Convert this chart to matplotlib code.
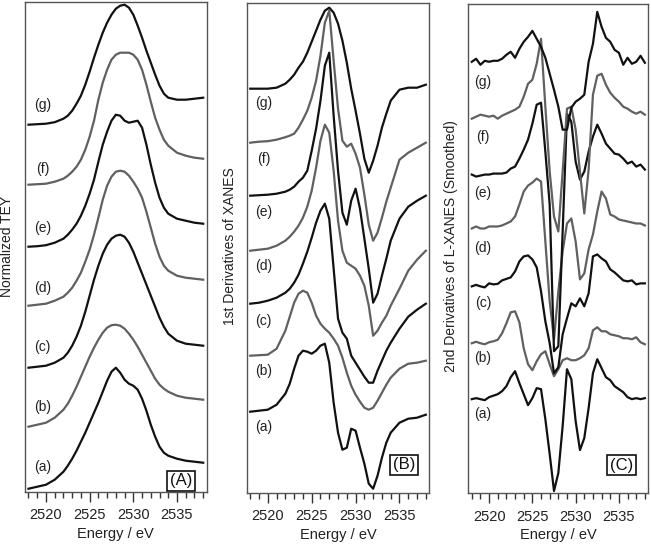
import matplotlib
matplotlib.use("Agg")
import matplotlib.pyplot as plt
from matplotlib.ticker import MultipleLocator

plt.rcParams['font.family'] = ['Liberation Sans', 'DejaVu Sans']

# Energy grids (eV)
energy_ab = [2518, 2519, 2520, 2521, 2522, 2522.5, 2523, 2523.5, 2524, 2524.5,
             2525, 2525.5, 2526, 2526.5, 2527, 2527.5, 2528, 2528.5, 2529, 2529.5,
             2530, 2530.5, 2531, 2531.5, 2532, 2532.5, 2533, 2533.5, 2534, 2535,
             2536, 2537, 2538]
energy_c = [2518, 2518.5, 2519, 2519.5, 2520, 2520.5, 2521, 2521.5, 2522, 2522.5,
            2523, 2523.5, 2524, 2524.5, 2525, 2525.5, 2526, 2526.5, 2527, 2527.5,
            2528, 2528.5, 2529, 2529.5, 2530, 2530.5, 2531, 2531.5, 2532, 2532.5,
            2533, 2533.5, 2534, 2534.5, 2535, 2535.5, 2536, 2536.5, 2537, 2537.5, 2538]

curve_names = ['(a)', '(b)', '(c)', '(d)', '(e)', '(f)', '(g)']

# Panel A: normalized TEY (stacked, arbitrary units)
tey_a = [3, 5, 7, 12, 20, 26, 33, 41, 50, 59, 69, 79, 89, 100, 111, 120, 124, 119, 112, 108,
         106, 102, 93, 81, 67, 55, 45, 39, 36, 33, 31, 30, 29]
tey_b = [65, 67, 69, 74, 82, 88, 96, 105, 115, 125, 135, 144, 152, 159, 164, 166.5, 167, 166,
         163, 158, 152, 145, 137, 129, 121, 113, 107, 103, 100, 96, 94, 93, 92]
tey_c = [124, 125, 126, 129, 134, 139, 146, 155, 166, 180, 196, 212, 226, 238, 247, 253, 256,
         257, 255, 249, 240, 229, 218, 207, 196, 185, 174, 165, 158, 151, 148, 147, 146]
tey_d = [186, 187, 188, 191, 195, 199, 204, 211, 219, 230, 242, 257, 274, 292, 306, 315, 320,
         321, 320, 316, 310, 303, 294, 280, 264, 248, 235, 226, 221, 216, 214, 213, 212]
tey_e = [245, 245.5, 246.5, 249, 253, 257, 262, 268, 276, 286, 298, 312, 330, 347, 360, 371,
         377, 376, 371, 369, 370, 371, 364, 347, 327, 309, 294, 284, 278, 273, 271, 269, 268]
tey_f = [307, 307.5, 308, 310, 313, 316, 320, 325, 332, 342, 355, 371, 392, 409, 422, 432, 437,
         439, 439, 439, 437, 432, 422, 407, 390, 374, 362, 352, 346, 339, 336, 334, 333]
tey_g = [367, 367.5, 368, 369.5, 373, 376, 381, 388, 396, 407, 420, 434, 447, 459, 469, 477,
         483, 486, 487, 484, 477, 466, 454, 441, 429, 417, 406, 398, 394, 392, 392, 393, 394]

# Panel B: 1st derivatives
d1_a = [81, 82, 83, 88, 99, 109, 124, 137, 142, 141, 139, 142, 147, 149, 130, 90, 60, 43, 45,
        64, 62, 45, 29, 9, 4, 17, 35, 50, 60, 70, 74, 75, 78]
d1_b = [137, 137.5, 138, 144, 162, 176, 190, 199, 202, 200, 190, 177, 169, 164, 160, 154, 147,
        135, 120, 107, 98, 91, 85, 83, 85, 92, 100, 108, 115, 124, 129, 130, 132]
d1_c = [189, 190, 192, 195, 200, 204, 210, 218, 229, 241, 255, 270, 282, 289, 274, 224, 174,
        160, 154, 137, 130, 123, 116, 110, 110, 122, 132, 142, 150, 164, 176, 183, 189]
d1_d = [242, 243, 244, 247, 252, 256, 261, 267, 275, 286, 302, 325, 352, 368, 360, 322, 272,
        242, 230, 227, 224, 217, 207, 187, 157, 162, 170, 177, 187, 204, 222, 233, 242]
d1_e = [297, 297.5, 298, 299, 301, 303, 306, 311, 315, 322, 342, 364, 392, 427, 440, 377, 322,
        280, 268, 292, 304, 284, 254, 224, 190, 199, 217, 234, 252, 274, 286, 292, 297]
d1_f = [350, 351, 351.5, 353, 355.5, 357, 359, 365, 373, 382, 395, 412, 437, 470, 482, 432, 384,
        352, 346, 349, 339, 325, 298, 268, 252, 260, 275, 291, 305, 333, 340, 345, 350]
d1_g = [404, 404, 404, 405, 409, 413, 418, 425, 431, 440, 451, 462, 473, 482, 485, 480, 469,
        452, 430, 404, 382, 359, 334, 320, 332, 347, 365, 379, 392, 403, 405, 405, 408]

# Panel C: 2nd derivatives (smoothed)
d2_a = [94, 95, 94, 93, 96, 97.5, 99, 102, 107, 116, 122, 110, 99, 88, 95, 105, 104, 74, 39, 2,
        20, 67, 124, 114, 72, 43, 55, 85, 120, 134, 125, 116, 113, 107, 104, 101, 96, 94, 95, 94, 95]
d2_b = [150, 151.5, 150, 149, 151, 152, 153.5, 160, 170, 181, 182, 171, 145, 129, 123, 132, 139,
        142, 129, 117, 124, 133, 135, 133, 133, 135, 138, 145, 163, 166, 162, 162, 159, 158, 157,
        155, 155, 154, 156, 151, 149]
d2_c = [207, 208.5, 207, 206, 210, 209, 209.5, 213, 214.5, 216, 222, 232, 237, 238, 234, 226, 202,
        172, 150, 120, 126, 159, 175, 190, 187, 195, 187, 200, 237, 239, 235, 232, 224, 221, 217,
        213, 212, 213, 209, 210, 210]
d2_d = [265, 267, 265, 265, 267, 267, 267, 268, 270, 272, 277, 289, 302, 308, 311, 315, 312, 252,
        192, 154, 202, 242, 270, 275, 252, 214, 220, 244, 259, 282, 302, 295, 279, 277, 274, 273,
        272, 271, 270, 270, 268]
d2_e = [319, 317, 318, 319, 319, 320, 320, 320, 321, 325, 327, 335, 344, 354, 370, 389, 391, 342,
        289, 142, 147, 262, 380, 372, 332, 314, 322, 342, 357, 369, 360, 350, 345, 340, 339, 335,
        330, 332, 327, 329, 324]
d2_f = [375, 377, 379, 378, 377, 378, 375, 378, 380, 382, 384, 387, 397, 410, 414, 430, 455, 387,
        322, 277, 262, 322, 385, 387, 364, 322, 280, 324, 399, 418, 420, 409, 401, 396, 392, 387,
        385, 382, 380, 382, 379]
d2_g = [432, 435, 429, 433, 432, 433, 433, 435, 439, 442, 436, 445, 452, 457, 463, 455, 447, 436,
        420, 404, 387, 364, 364, 386, 392, 395, 399, 432, 450, 482, 467, 456, 452, 444, 441, 429,
        436, 430, 432, 438, 431]

# heights of the (a)...(g) tags in each panel
tags_a = [25, 85, 145, 204, 264, 323, 387]
tags_b = [66, 122, 172, 227, 281, 334, 390]
tags_c = [79, 135, 190, 245, 301, 357, 412]

BLACK = '#111111'
GRAY = '#606060'


def draw_panel(ax, energy, curves, tags, tag_x, box_text, box_xy):
    for i, (name, y) in enumerate(zip(curve_names, curves)):
        color = BLACK if i % 2 == 0 else GRAY
        ax.plot(energy, y, color=color, lw=1.6, solid_joinstyle='round')
        ax.text(tag_x, tags[i], name, fontsize=10, color='#222222', ha='center', va='center')

    ax.text(box_xy[0], box_xy[1], box_text, transform=ax.transAxes, fontsize=12,
            ha='center', va='center', color='#111111',
            bbox=dict(boxstyle='square,pad=0.16', fc='white', ec='#111111', lw=1.2))

    ax.set_xlim(2517.6, 2538.4)
    ax.set_ylim(0, 490)
    ax.set_yticks([])
    ax.xaxis.set_major_locator(MultipleLocator(5))
    ax.xaxis.set_minor_locator(MultipleLocator(1))
    ax.tick_params(axis='x', which='major', direction='out', length=7, width=1,
                   pad=5, labelsize=10.5, colors='#333333', labelcolor='#222222')
    ax.tick_params(axis='x', which='minor', direction='out', length=4, width=1,
                   colors='#333333')
    for s in ax.spines.values():
        s.set_color('#555555')
        s.set_linewidth(1.0)
    ax.set_xlabel('Energy / eV', fontsize=10.5, color='#222222', labelpad=3)


fig = plt.figure(figsize=(6.51, 5.48), dpi=100)

ax_a = fig.add_axes([0.0384, 0.1027, 0.2791, 0.8942])
ax_b = fig.add_axes([0.3790, 0.1009, 0.2805, 0.8942])
ax_c = fig.add_axes([0.7194, 0.1004, 0.2765, 0.8925])

draw_panel(ax_a, energy_ab, [tey_a, tey_b, tey_c, tey_d, tey_e, tey_f, tey_g],
           tags_a, 2519.6, '(A)', (0.86, 0.022))
draw_panel(ax_b, energy_ab, [d1_a, d1_b, d1_c, d1_d, d1_e, d1_f, d1_g],
           tags_b, 2519.5, '(B)', (0.861, 0.057))
draw_panel(ax_c, energy_c, [d2_a, d2_b, d2_c, d2_d, d2_e, d2_f, d2_g],
           tags_c, 2519.3, '(C)', (0.85, 0.057))

# y labels
fig.text(7 / 651, 1 - 246 / 548, 'Normalized TEY', rotation=90, fontsize=10,
         ha='center', va='center', color='#222222')
fig.text(230 / 651, 1 - 246 / 548, '1st Derivatives of XANES', rotation=90, fontsize=10,
         ha='center', va='center', color='#222222')
fig.text(451 / 651, 1 - 246 / 548, '2nd Derivatives of L-XANES (Smoothed)', rotation=90,
         fontsize=10, ha='center', va='center', color='#222222')

fig.savefig('out.png', dpi=100)
